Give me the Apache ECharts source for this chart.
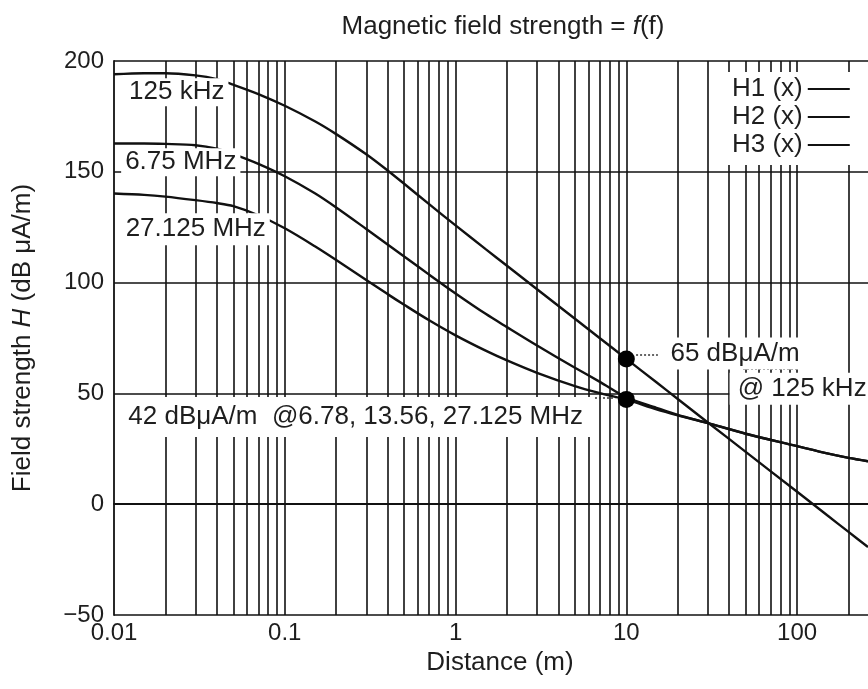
<!DOCTYPE html>
<html>
<head>
<meta charset="utf-8">
<script src="https://cdn.jsdelivr.net/npm/echarts@6/dist/echarts.min.js"></script>
<style>
  html, body { margin: 0; padding: 0; background: #fff; }
  #chart { width: 868px; height: 689px; }
</style>
</head>
<body>
<div id="chart"></div>
<script>
// distance in metres (log axis)
var distance = [0.01, 0.015, 0.02, 0.03, 0.04, 0.05, 0.07, 0.1, 0.15, 0.2, 0.3, 0.4, 0.5, 0.7, 1, 1.5, 2, 3, 5, 7, 10, 15, 20, 30, 50, 100, 150, 200, 260];
// field strength, dB uA/m
var h1 = [194, 194.5, 194.5, 193.5, 191.8, 189.3, 185.1, 179.8, 172.8, 167, 157.9, 150.6, 144.6, 135.4, 125.8, 115.1, 107.6, 97, 83.7, 74.9, 65.6, 55, 47.5, 36.9, 23.6, 5.6, -5, -12.5, -19.3];
var h2 = [162.8, 162.8, 162.6, 162, 160.4, 158, 153.6, 148, 140.3, 133.9, 124.2, 117.2, 111.8, 103.6, 95.1, 85.9, 79.9, 71.6, 61.6, 55.2, 48.2, 43.5, 40.3, 36.6, 31.8, 26.2, 22.9, 20.9, 19.4];
var h3 = [140.2, 139.6, 138.8, 137.2, 135.9, 134.5, 130.4, 124.5, 116.4, 110.2, 101.2, 94.8, 90, 83, 76.2, 69.3, 64.9, 59.3, 53.3, 50.1, 47.2, 42.8, 40.1, 36.6, 31.8, 26.2, 22.9, 20.9, 19.4];
var seriesNames = ['H1 (x)', 'H2 (x)', 'H3 (x)'];

// marked points at 10 m
var dotX = [10, 10];
var dotY = [65.5, 47.3];

// annotation texts and where they sit (data coords)
var noteText = ['125 kHz', '6.75 MHz', '27.125 MHz', '42 dB\u03bcA/m  @6.78, 13.56, 27.125 MHz', '65 dB\u03bcA/m', '@ 125 kHz'];
var noteX = [0.0233, 0.0246, 0.0301, 0.26, 43.3, 107];
var noteY = [185.9, 154.3, 124.1, 39.4, 68, 52.1];

var xTicks = [0.01, 0.1, 1, 10, 100];
var yTicks = [-50, 0, 50, 100, 150, 200];

var ink = '#111';
var txt = '#1e1e1e';
var font = 'Liberation Sans';

function pairs(xs, ys) {
    var out = [];
    for (var i = 0; i < xs.length; i++) out.push([xs[i], ys[i]]);
    return out;
}

// vertical grid at 1..9 of every decade
var vLines = [];
for (var d = -2; d <= 2; d++) {
    for (var m = 1; m <= 9; m++) {
        var v = +(m * Math.pow(10, d)).toPrecision(3);
        if (v > 0.01 && v < 260) vLines.push({ xAxis: v });
    }
}

var boxPad = [[1, 4], [1, 4], [3, 4], [7, 10], [3, 6], [3, 8]];
var notes = [];
for (var i = 0; i < noteText.length; i++) {
    notes.push({
        value: [noteX[i], noteY[i]],
        label: { formatter: noteText[i], padding: boxPad[i] }
    });
}

var curves = [h1, h2, h3].map(function (ys, k) {
    return {
        name: seriesNames[k],
        type: 'line',
        data: pairs(distance, ys),
        smooth: 0.3,
        symbol: 'none',
        color: ink,
        lineStyle: { color: ink, width: 2.4 },
        z: 2
    };
});

var option = {
    animation: false,
    backgroundColor: '#fff',
    textStyle: { fontFamily: font },
    title: {
        text: 'Magnetic field strength = {i|f}(f)',
        left: 498,
        top: 9,
        textAlign: 'center',
        textStyle: {
            fontFamily: font, fontSize: 26, fontWeight: 'normal', color: txt,
            rich: { i: { fontFamily: font, fontSize: 26, fontStyle: 'italic', color: txt } }
        }
    },
    legend: {
        data: seriesNames,
        orient: 'vertical',
        left: 723,
        top: 72,
        z: 20,
        align: 'right',
        icon: 'rect',
        itemWidth: 42,
        itemHeight: 2,
        itemGap: 2,
        padding: [4, 20, 7, 9],
        backgroundColor: '#fff',
        textStyle: { fontFamily: font, fontSize: 26, color: txt },
        selectedMode: false
    },
    grid: { left: 114, right: 0, top: 61, bottom: 74 },
    xAxis: {
        type: 'log',
        logBase: 10,
        min: 0.01,
        max: 260,
        name: 'Distance (m)',
        nameLocation: 'middle',
        nameGap: 26,
        nameTextStyle: { fontFamily: font, fontSize: 26, color: txt, padding: [0, 0, 0, 18] },
        axisLine: { lineStyle: { color: ink, width: 1.8 } },
        axisTick: { show: false },
        splitLine: { show: false },
        axisLabel: {
            margin: 6,
            fontFamily: font, fontSize: 24, color: txt,
            showMaxLabel: false,
            formatter: function (v) {
                for (var i = 0; i < xTicks.length; i++) {
                    if (Math.abs(v - xTicks[i]) < xTicks[i] * 1e-6) return String(xTicks[i]);
                }
                return '';
            }
        }
    },
    yAxis: {
        type: 'value',
        min: yTicks[0],
        max: yTicks[yTicks.length - 1],
        interval: 50,
        name: 'Field strength {i|H} (dB \u03bcA/m)',
        nameLocation: 'middle',
        nameGap: 78,
        nameTextStyle: {
            fontFamily: font, fontSize: 26, color: txt,
            rich: { i: { fontFamily: font, fontSize: 26, fontStyle: 'italic', color: txt } }
        },
        axisLine: { show: true, lineStyle: { color: ink, width: 1.8 } },
        axisTick: { show: false },
        splitLine: { show: true, lineStyle: { color: ink, width: 1.6 } },
        axisLabel: {
            margin: 10,
            fontFamily: font, fontSize: 24, color: txt,
            formatter: function (v) { return v < 0 ? '\u2212' + Math.abs(v) : String(v); }
        }
    },
    series: [
        {
            name: 'grid',
            type: 'line',
            data: [],
            silent: true,
            z: 1,
            markLine: {
                silent: true,
                symbol: ['none', 'none'],
                label: { show: false },
                lineStyle: { color: ink, width: 1.6, type: 'solid' },
                data: vLines
            }
        }
    ].concat(curves).concat([
        {
            name: 'notes',
            type: 'scatter',
            symbolSize: 0,
            data: notes,
            silent: true,
            z: 5,
            itemStyle: { opacity: 1 },
            label: {
                show: true,
                position: 'inside',
                backgroundColor: '#fff',
                fontFamily: font,
                fontSize: 26,
                color: txt
            }
        },
        {
            name: 'leaders',
            type: 'line',
            data: [],
            silent: true,
            z: 6,
            markLine: {
                silent: true,
                symbol: ['none', 'none'],
                label: { show: false },
                lineStyle: { color: '#333', width: 1.5, type: [2, 2] },
                data: [
                    [{ coord: [11.4, 67.6] }, { coord: [15.3, 67.6] }],
                    [{ coord: [48.2, 61.2] }, { coord: [99.5, 61.2] }],
                    [{ coord: [3.43, 48.2] }, { coord: [8.6, 48.2] }]
                ]
            }
        },
        {
            name: 'points',
            type: 'scatter',
            data: pairs(dotX, dotY),
            symbol: 'circle',
            symbolSize: 17,
            itemStyle: { color: '#000', opacity: 1 },
            silent: true,
            z: 7
        }
    ])
};

var chart = echarts.init(document.getElementById('chart'));
chart.setOption(option);
</script>
</body>
</html>
